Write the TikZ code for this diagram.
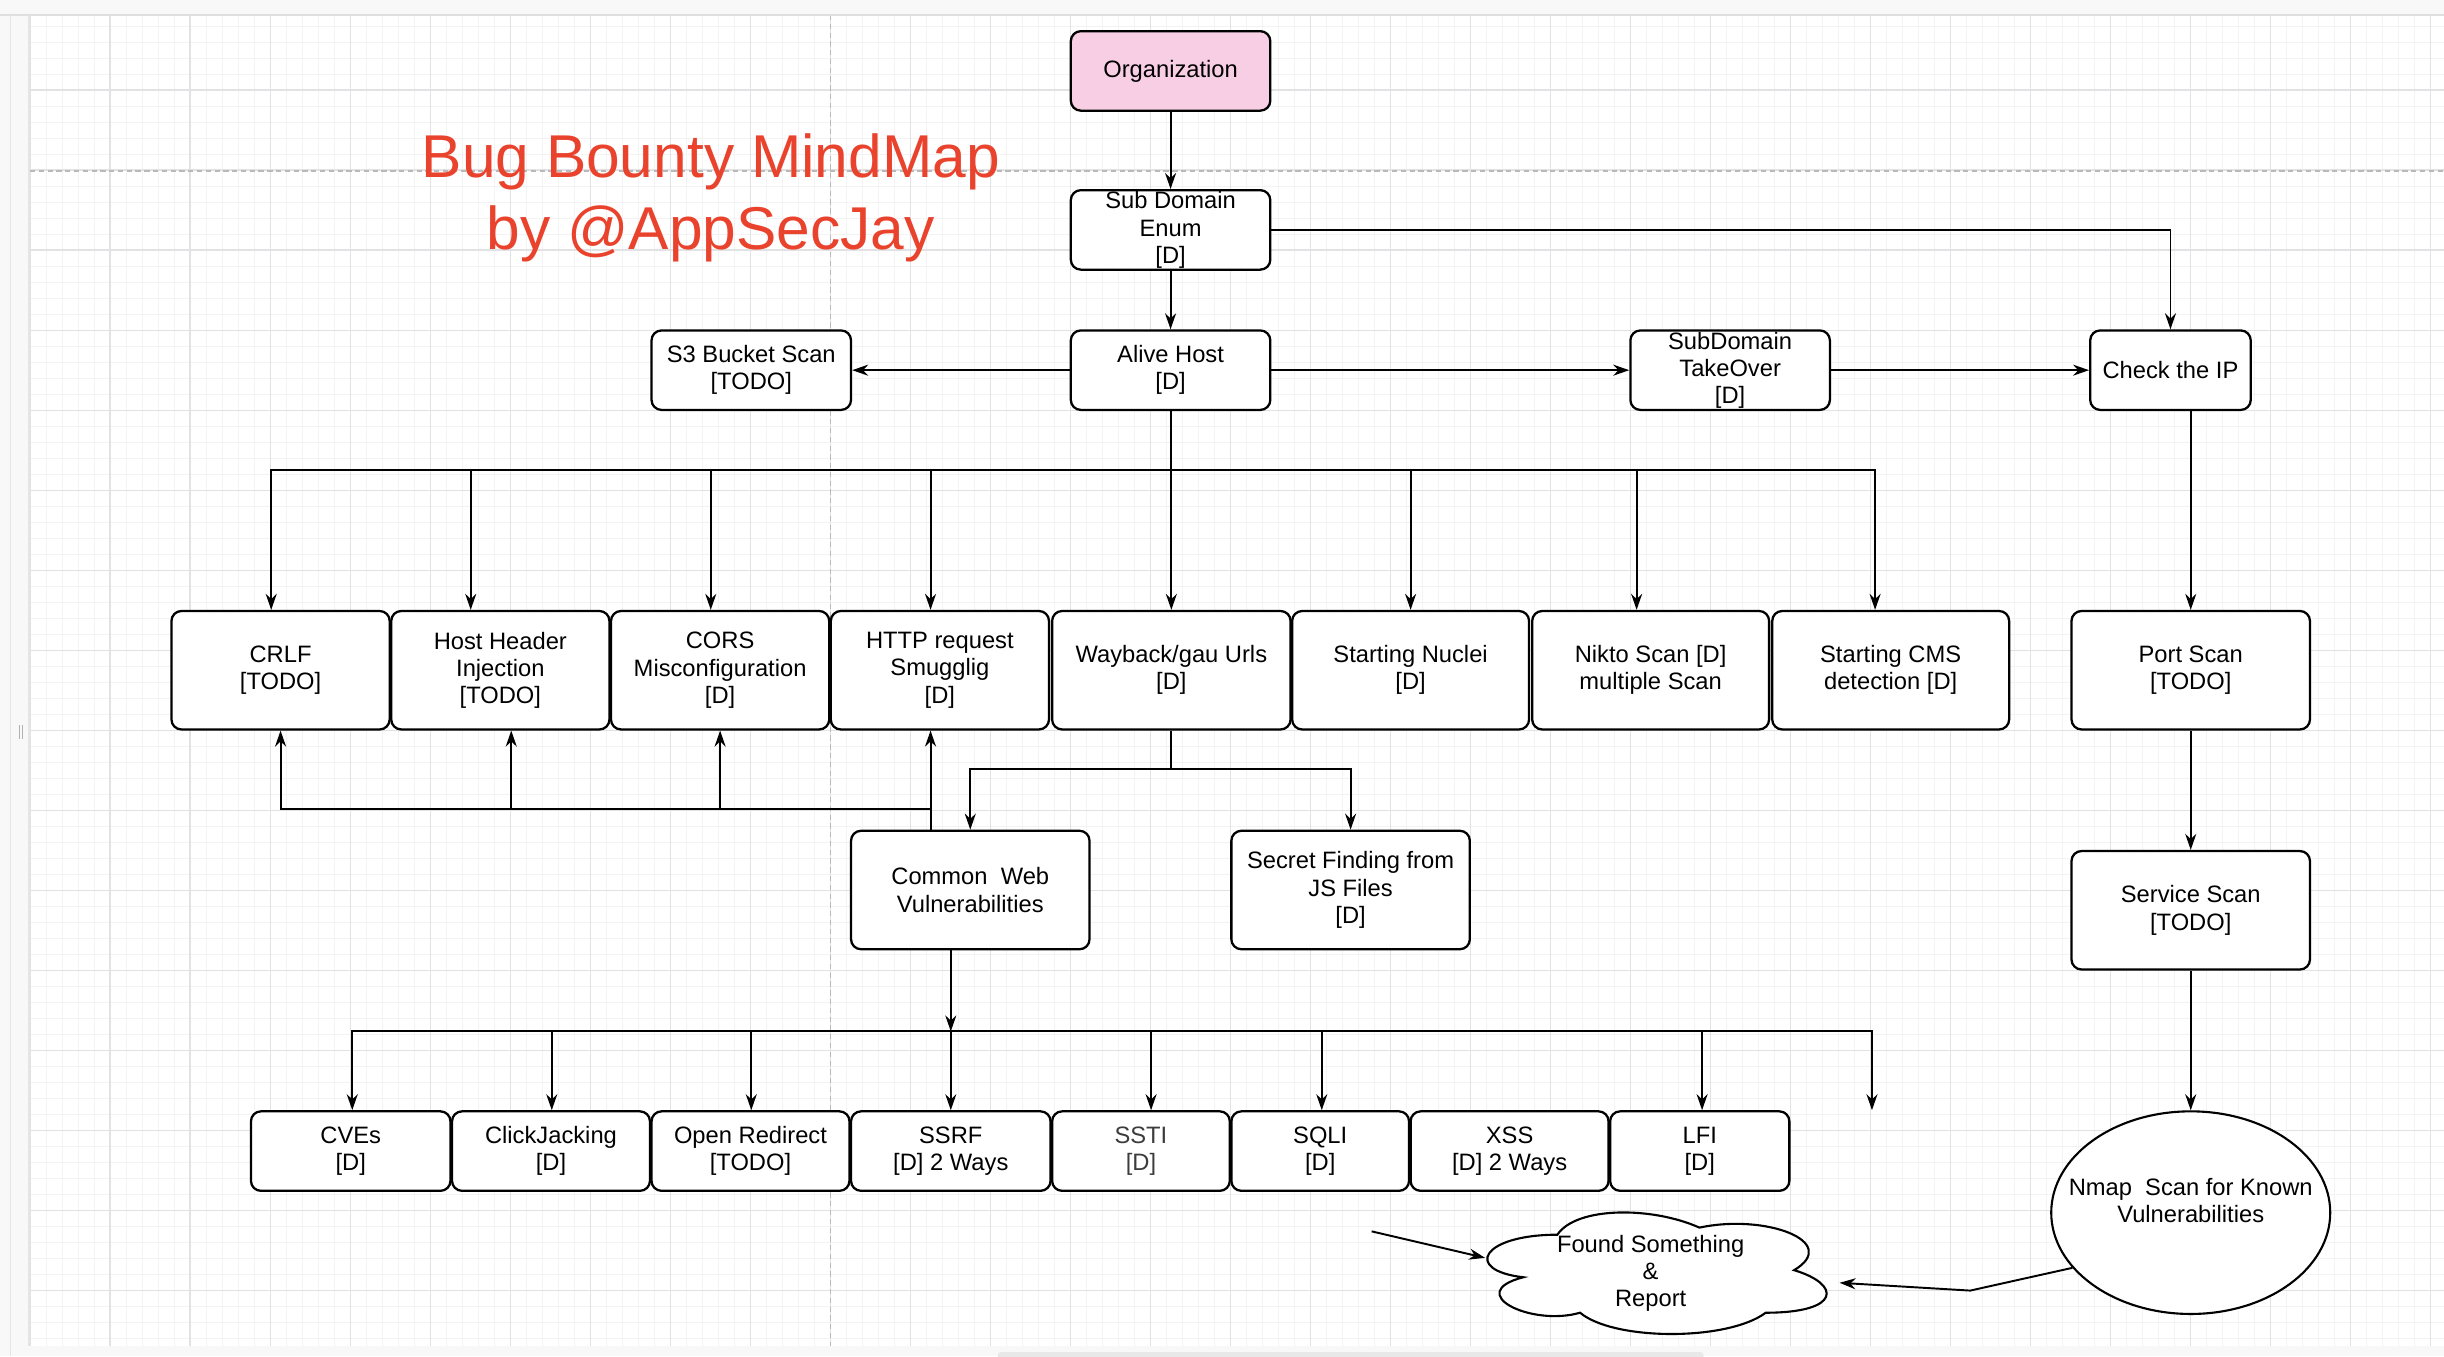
\documentclass[tikz,border=0pt]{standalone}
\usepackage{fontspec}
\setmainfont{Liberation Sans}
\usetikzlibrary{arrows.meta,calc,shapes.geometric}

\definecolor{orgpink}{RGB}{248,206,228}
\definecolor{titlered}{RGB}{234,67,45}
\definecolor{gridminor}{RGB}{243,243,244}
\definecolor{gridmajor}{RGB}{226,226,228}
\definecolor{uigray}{RGB}{248,248,249}
\definecolor{sstigray}{RGB}{60,60,60}

\newcommand{\px}{0.031174cm}

\tikzset{
  box/.style={draw, line width=1.3pt, rounded corners=0.2cm, fill=white, align=center,
              inner sep=0pt, font=\fontsize{13.5}{15.5}\selectfont},
  sz/.style 2 args={minimum width=#1*\px, minimum height=#2*\px},
  arr/.style={-{Stealth[length=0.32cm,width=0.22cm]}, line width=1.1pt},
}

\begin{document}
\begin{tikzpicture}[x=0.031174cm, y=-0.031174cm]
\useasboundingbox (0,0) rectangle (1568,870);
\fill[white] (0,0) rectangle (1568,870);

% grid
\foreach \i in {0,...,150}
  \draw[gridminor, line width=0.5pt] (19.25+10.265*\i,9.6) -- (19.25+10.265*\i,863.6);
\foreach \j in {1,...,83}
  \draw[gridminor, line width=0.5pt] (19.25,6.42+10.265*\j) -- (1568,6.42+10.265*\j);
\foreach \k in {0,...,30}
  \draw[gridmajor, line width=0.6pt] (19.25+51.33*\k,9.6) -- (19.25+51.33*\k,863.6);
\foreach \k in {1,...,16}
  \draw[gridmajor, line width=0.6pt] (19.25,6.42+51.33*\k) -- (1568,6.42+51.33*\k);
\draw[gray!55, line width=0.6pt, dash pattern=on 3pt off 2pt] (19.25,109.7) -- (1568,109.7);
\draw[gray!55, line width=0.6pt, dash pattern=on 3pt off 2pt] (533.1,9.6) -- (533.1,863.6);

% window frame
\fill[uigray] (0,0) rectangle (1568,9.6);
\fill[uigray] (0,9.6) rectangle (19.25,870);
\fill[uigray] (19.25,863.6) rectangle (1568,870);
\draw[gray!25, line width=0.8pt] (0,9.6) -- (1568,9.6);
\draw[gray!20, line width=0.6pt] (7,9.6) -- (7,870);
\draw[gray!20, line width=0.6pt] (18.6,9.6) -- (18.6,863.6);
\fill[gray!18, rounded corners=2pt] (640,867.4) rectangle (1093,872);
\draw[gray!60, line width=0.5pt] (12.4,465) -- (12.4,474) (14.6,465) -- (14.6,474);

% title
\node[titlered, align=center, font=\fontsize{34.4}{40.8}\selectfont] (title) at (456,127)
  {Bug Bounty MindMap\\by @AppSecJay};

% top part
\node[box, sz={128}{51}, fill=orgpink] (org) at (751,45.5) {Organization};
\node[box, sz={128}{51}] (sub) at (751,147.5) {Sub Domain\\Enum\\{[D]}};
\node[box, sz={128}{51}] (alive) at (751,237.5) {Alive Host\\{[D]}};
\node[box, sz={128}{51}] (s3) at (482,237.5) {S3 Bucket Scan\\{[TODO]}};
\node[box, sz={128}{51}] (takeover) at (1110,237.5) {SubDomain\\TakeOver\\{[D]}};
\node[box, sz={103}{51}] (checkip) at (1392.5,237.5) {Check the IP};

% middle row
\node[box, sz={140}{76}] (crlf) at (180,430) {CRLF\\{[TODO]}};
\node[box, sz={140}{76}] (hhi) at (321,430) {Host Header\\Injection\\{[TODO]}};
\node[box, sz={140}{76}] (cors) at (462,430) {CORS\\Misconfiguration\\{[D]}};
\node[box, sz={140}{76}] (http) at (603,430) {HTTP request\\Smugglig\\{[D]}};
\node[box, sz={153}{76}] (wayback) at (751.5,430) {Wayback/gau Urls\\{[D]}};
\node[box, sz={152}{76}] (nuclei) at (905,430) {Starting Nuclei\\{[D]}};
\node[box, sz={152}{76}] (nikto) at (1059,430) {Nikto Scan [D]\\multiple Scan};
\node[box, sz={152}{76}] (cms) at (1213,430) {Starting CMS\\detection [D]};
\node[box, sz={153}{76}] (port) at (1405.5,430) {Port Scan\\{[TODO]}};

\node[box, sz={153}{76}] (common) at (622.5,571) {Common\ \ Web\\Vulnerabilities};
\node[box, sz={153}{76}] (secret) at (866.5,571) {Secret Finding from\\JS Files\\{[D]}};
\node[box, sz={153}{76}] (service) at (1405.5,584) {Service Scan\\{[TODO]}};

% bottom row
\node[box, sz={128}{51}] (cves) at (225,738.5) {CVEs\\{[D]}};
\node[box, sz={127}{51}] (click) at (353.5,738.5) {ClickJacking\\{[D]}};
\node[box, sz={127}{51}] (openr) at (481.5,738.5) {Open Redirect\\{[TODO]}};
\node[box, sz={128}{51}] (ssrf) at (610,738.5) {SSRF\\{[D] 2 Ways}};
\node[box, sz={114}{51}, text=sstigray] (ssti) at (732,738.5) {SSTI\\{[D]}};
\node[box, sz={114}{51}] (sqli) at (847,738.5) {SQLI\\{[D]}};
\node[box, sz={127}{51}] (xss) at (968.5,738.5) {XSS\\{[D] 2 Ways}};
\node[box, sz={115}{51}] (lfi) at (1090.5,738.5) {LFI\\{[D]}};

\node[ellipse, draw, line width=1.2pt, fill=white, sz={179}{130}, inner sep=0pt,
      label={[align=center, font=\fontsize{13.5}{15.5}\selectfont, yshift=0.25cm]center:Nmap\ \ Scan for Known\\Vulnerabilities}]
  (nmap) at (1405.5,778) {};

% cloud
\begin{scope}[shift={(938.4,769.4)}, x=7.5753cm, y=-2.8368cm]
  \draw[line width=1.2pt, fill=white] (0.25,0.25)
    .. controls (0.05,0.25) and (0,0.5) .. (0.16,0.55)
    .. controls (0,0.66) and (0.18,0.9) .. (0.31,0.8)
    .. controls (0.4,1) and (0.7,1) .. (0.8,0.8)
    .. controls (1,0.8) and (1,0.6) .. (0.875,0.5)
    .. controls (1,0.3) and (0.8,0.1) .. (0.625,0.2)
    .. controls (0.5,0.05) and (0.3,0.05) .. (0.25,0.25) -- cycle;
\end{scope}
\node[sz={243}{91}, inner sep=0pt, align=center, font=\fontsize{13.5}{15.5}\selectfont]
  (found) at (1059,817) {Found Something\\\&\\Report};

% connectors
\draw[arr] (org) -- (sub);
\draw[arr] (sub) -- (alive);
\draw[arr] (sub.east) -| (checkip.north);
\draw[arr] (alive) -- (s3);
\draw[arr] (alive) -- (takeover);
\draw[arr] (takeover) -- (checkip);
\foreach \n/\dx in {crlf/-6, hhi/-19, cors/-6, http/-6, wayback/0, nuclei/0, nikto/-9, cms/-10}
  \draw[arr] (alive.south) |- ($(\n.north)+(\dx,-90)$) -- ($(\n.north)+(\dx,0)$);
\draw[arr] (checkip.south -| port.north) -- (port.north);
\draw[arr] (port) -- (service);
\draw[arr] (service) -- (nmap);

\draw[arr] (wayback.south) |- ($(common.north)+(0,-39)$) -- (common.north);
\draw[arr] (wayback.south) |- ($(secret.north)+(0,-39)$) -- (secret.north);

\draw[arr] ($(common.north)+(-25.5,0)$) -- ($(http.south)+(-6,0)$);
\foreach \n/\dx in {crlf/0, hhi/7, cors/0}
  \draw[arr] ($(common.north)+(-25.5,-13)$) -| ($(\n.south)+(\dx,0)$);

\coordinate (cwbus) at ($(common.south)+(-12.5,52)$);
\coordinate (loose) at ($(lfi.north)+(110.5,0)$);
\draw[arr] ($(common.south)+(-12.5,0)$) -- (cwbus);
\foreach \n/\dx in {cves/1, click/0.5, openr/0.5, ssrf/0, ssti/6.5, sqli/1, lfi/1.5}
  \draw[arr] (cwbus) -| ($(\n.north)+(\dx,0)$);
\draw[arr] (cwbus) -| (loose);

\coordinate (bend) at (1264,828);
\coordinate (report) at (880,790);
\draw[arr] (nmap.205) -- (bend) -- ($(found.east)+(-0.5,6)$);
\draw[arr] (report) -- ($(found.west)+(15.5,-10)$);
\end{tikzpicture}
\end{document}
